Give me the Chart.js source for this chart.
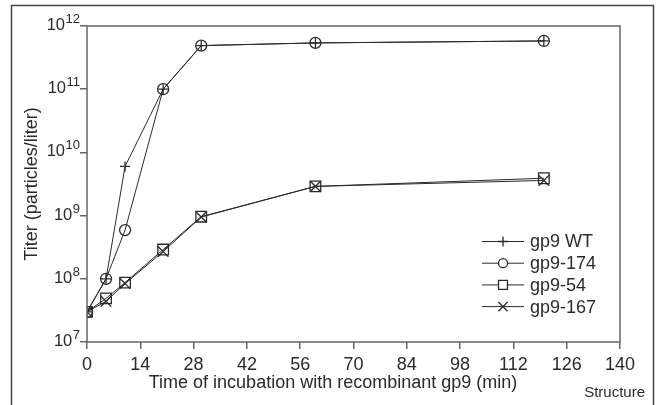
<!DOCTYPE html>
<html>
<head>
<meta charset="utf-8">
<script src="https://cdn.jsdelivr.net/npm/chart.js@4.4.1/dist/chart.umd.min.js"></script>
<style>
  html, body { margin: 0; padding: 0; background: #fff; overflow: hidden; }
</style>
</head>
<body>
<canvas id="titerChart" width="659" height="405"></canvas>
<script>
// =========================
// Data
// =========================
const times   = [0, 5, 10, 20, 30, 60, 120];
const gp9WT   = [3e7, 1e8, 6e9, 1e11, 4.9e11, 5.4e11, 5.8e11];
const gp9_174 = [3e7, 1e8, 5.9e8, 1e11, 4.9e11, 5.4e11, 5.8e11];
const gp9_54  = [3e7, 4.9e7, 8.7e7, 2.9e8, 9.6e8, 2.9e9, 3.9e9];
const gp9_167 = [3e7, 4.4e7, 8.4e7, 2.7e8, 9.5e8, 2.9e9, 3.6e9];

const seriesNames = ["gp9 WT", "gp9-174", "gp9-54", "gp9-167"];
const xTicks = [0, 14, 28, 42, 56, 70, 84, 98, 112, 126, 140];
const yExponents = [7, 8, 9, 10, 11, 12];

const xTitle = "Time of incubation with recombinant gp9 (min)";
const yTitle = "Titer (particles/liter)";
const sourceNote = "Structure";

// =========================
// Look
// =========================
const FONT = "'Liberation Sans', Arial, Helvetica, sans-serif";
const INK = "#2a2a2a";
const AXIS = "#666";

const styles = [
  { pointStyle: "cross",    radius: 5,   legendRadius: 5 },
  { pointStyle: "circle",   radius: 5.5, legendRadius: 4.5 },
  { pointStyle: "rect",     radius: 7.5, legendRadius: 6.3 },
  { pointStyle: "crossRot", radius: 7.5, legendRadius: 6.5 }
];

function toPoints(values) {
  return values.map((v, i) => ({ x: times[i], y: v }));
}

const allSeries = [gp9WT, gp9_174, gp9_54, gp9_167];

const datasets = allSeries.map((vals, i) => ({
  label: seriesNames[i],
  data: toPoints(vals),
  borderColor: INK,
  borderWidth: 1,
  pointStyle: styles[i].pointStyle,
  pointRadius: styles[i].radius,
  pointBorderColor: INK,
  pointBorderWidth: 1.3,
  pointBackgroundColor: "rgba(0,0,0,0)",
  fill: false,
  tension: 0
}));

// =========================
// Extra drawing: frame, box, y labels with exponents, legend, notes
// =========================
const decorPlugin = {
  id: "decor",
  afterDraw(chart) {
    const ctx = chart.ctx;
    const area = chart.chartArea;
    const yScale = chart.scales.y;
    ctx.save();

    // outer frame (its bottom edge is cut off by the picture)
    ctx.strokeStyle = "#444";
    ctx.lineWidth = 1.5;
    ctx.beginPath();
    ctx.moveTo(11.5, 420);
    ctx.lineTo(11.5, 5.5);
    ctx.lineTo(653.5, 5.5);
    ctx.lineTo(653.5, 420);
    ctx.stroke();

    // plot box
    ctx.strokeStyle = AXIS;
    ctx.lineWidth = 1.5;
    ctx.strokeRect(area.left, area.top, area.right - area.left, area.bottom - area.top);

    // y tick labels: 10 with raised exponent
    ctx.fillStyle = INK;
    ctx.textBaseline = "alphabetic";
    const labelRight = area.left - 7;
    yExponents.forEach(e => {
      const y = yScale.getPixelForValue(Math.pow(10, e));
      ctx.font = "13px " + FONT;
      const expW = ctx.measureText(String(e)).width;
      ctx.textAlign = "left";
      ctx.fillText(String(e), labelRight - expW, y - 3);
      ctx.font = "16.5px " + FONT;
      ctx.textAlign = "right";
      ctx.fillText("10", labelRight - expW - 0.5, y + 4);
    });

    // x axis title
    ctx.font = "18px " + FONT;
    ctx.textAlign = "center";
    ctx.textBaseline = "middle";
    ctx.fillText(xTitle, 333, 383);

    // source note
    ctx.font = "15px " + FONT;
    ctx.textAlign = "right";
    ctx.fillText(sourceNote, 645, 393);

    // legend
    const lx0 = 482, lx1 = 524, ly0 = 241.5, step = 21.7;
    seriesNames.forEach((name, i) => {
      const y = ly0 + i * step;
      ctx.strokeStyle = INK;
      ctx.lineWidth = 1;
      ctx.beginPath();
      ctx.moveTo(lx0, y);
      ctx.lineTo(lx1, y);
      ctx.stroke();
      ctx.fillStyle = "#fff";
      ctx.lineWidth = 1.3;
      Chart.helpers.drawPoint(ctx, {
        pointStyle: styles[i].pointStyle,
        radius: styles[i].legendRadius,
        borderWidth: 1.3,
        rotation: 0
      }, (lx0 + lx1) / 2, y);
      ctx.fillStyle = INK;
      ctx.font = "18px " + FONT;
      ctx.textAlign = "left";
      ctx.textBaseline = "middle";
      ctx.fillText(name, 530, y + 1);
    });

    ctx.restore();
  }
};

// =========================
// Chart
// =========================
const ctx = document.getElementById("titerChart").getContext("2d");

const titerChart = new Chart(ctx, {
  type: "line",
  data: { datasets },
  plugins: [decorPlugin],
  options: {
    responsive: false,
    animation: false,
    events: [],
    layout: { padding: { left: 0, top: 26, right: 39, bottom: 0 } },
    plugins: {
      legend: { display: false },
      tooltip: { enabled: false }
    },
    scales: {
      x: {
        type: "linear",
        min: 0,
        max: 140,
        afterBuildTicks: s => { s.ticks = xTicks.map(v => ({ value: v })); },
        afterFit: s => { s.height = 63; },
        grid: { drawOnChartArea: false, drawTicks: true, tickLength: 7, color: AXIS, lineWidth: 1.5 },
        border: { display: false },
        ticks: { color: INK, font: { family: FONT, size: 18 }, padding: 5, maxRotation: 0 }
      },
      y: {
        type: "logarithmic",
        min: 1e7,
        max: 1e12,
        afterBuildTicks: s => { s.ticks = yExponents.map(e => ({ value: Math.pow(10, e) })); },
        afterFit: s => { s.width = 87; },
        grid: { drawOnChartArea: false, drawTicks: true, tickLength: 7, color: AXIS, lineWidth: 1.5 },
        border: { display: false },
        ticks: { callback: () => "" },
        title: {
          display: true,
          text: yTitle,
          color: INK,
          font: { family: FONT, size: 18 },
          padding: { top: 21, bottom: 0 }
        }
      }
    }
  }
});
</script>
</body>
</html>
